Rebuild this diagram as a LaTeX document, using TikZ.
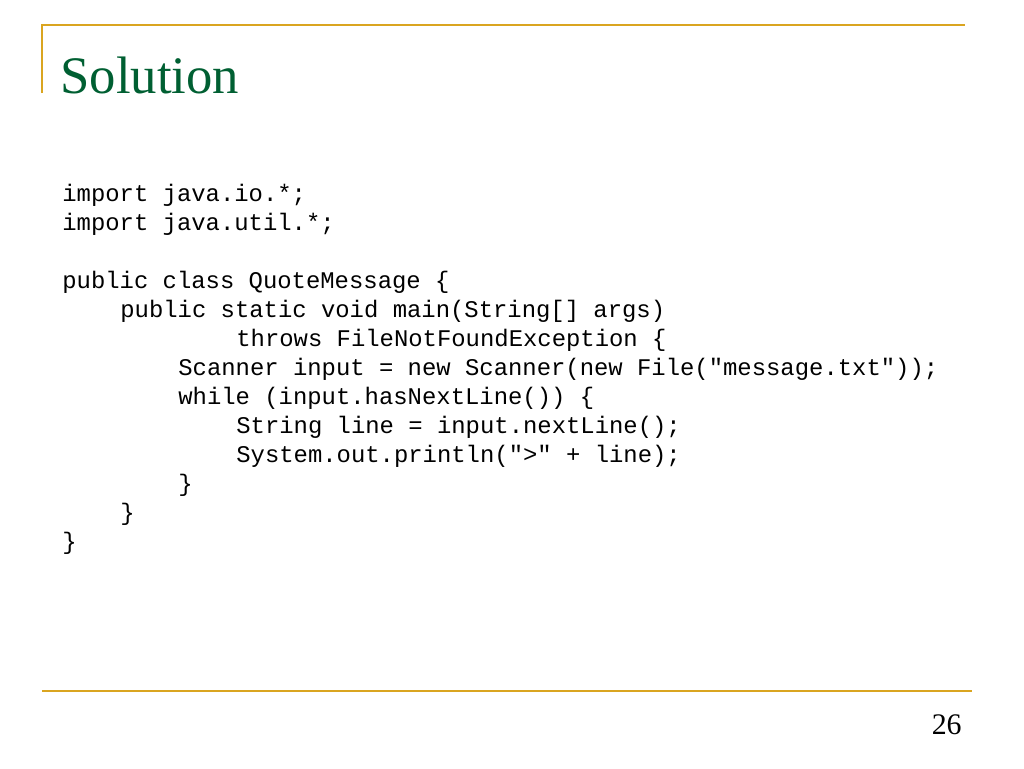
\documentclass[tikz,border=0pt]{standalone}
\usepackage{fontspec}
\setmainfont{Liberation Serif}
\setmonofont{Liberation Mono}
\usetikzlibrary{positioning}
\definecolor{rule}{RGB}{218,165,32}
\definecolor{titlegreen}{RGB}{0,95,50}
\tikzset{
  code/.style={anchor=west, inner sep=0pt, font=\fontsize{13.6pt}{15pt}\ttfamily},
}
\begin{document}
\begin{tikzpicture}[x=0.02cm, y=-0.02cm]
        \useasboundingbox (0,0) rectangle (1024,768);
        % Frame
        \draw[rule, line width=1.2pt] (42,93) -- (42,25) -- (965,25);
        \draw[rule, line width=1.2pt] (42,691) -- (972,691);

        % Title and page number
        \node[anchor=west, inner sep=0pt, text=titlegreen, font=\fontsize{30pt}{34pt}\selectfont] (title) at (60,75) {Solution};
        \node[anchor=east, inner sep=0pt, font=\fontsize{17pt}{20pt}\selectfont] (page) at (962,725) {26};

        % Code
        \node[code] (l1) at (62,195) {import java.io.*;};
        \node[code] (l2) at (62,224) {import java.util.*;};
        \node[code] (l3) at (62,282) {public class QuoteMessage \{};
        \node[code] (l4) at (120,311) {public static void main(String[] args)};
        \node[code] (l5) at (236,340) {throws FileNotFoundException \{};
        \node[code] (l6) at (178,369) {Scanner input = new Scanner(new File("message.txt"));};
        \node[code] (l7) at (178,398) {while (input.hasNextLine()) \{};
        \node[code] (l8) at (236,427) {String line = input.nextLine();};
        \node[code] (l9) at (236,456) {System.out.println(">" + line);};
        \node[code] (l10) at (178,485) {\}};
        \node[code] (l11) at (120,514) {\}};
        \node[code] (l12) at (62,543) {\}};
    \end{tikzpicture}
\end{document}
